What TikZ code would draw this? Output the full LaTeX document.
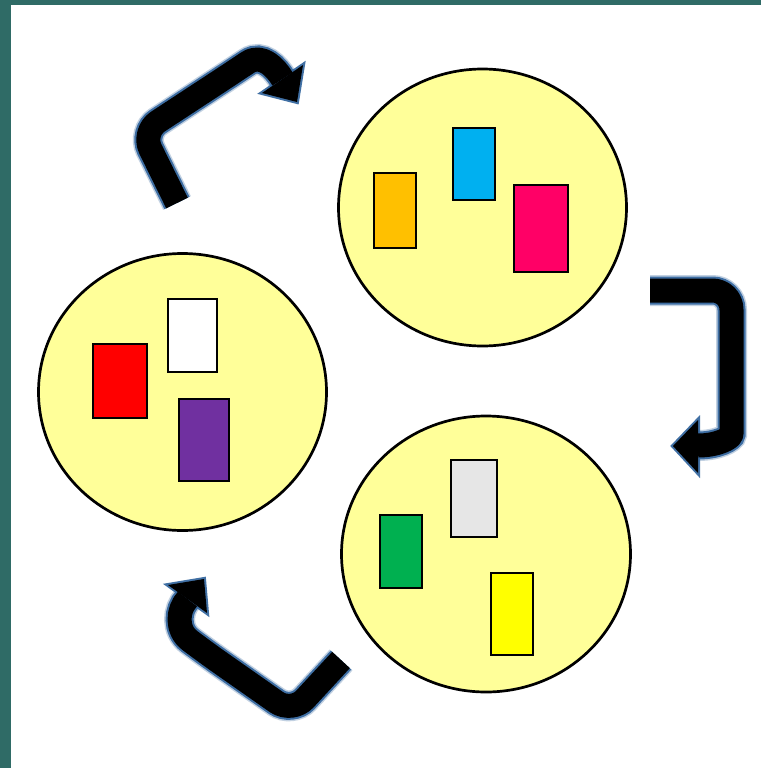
\documentclass[tikz,border=0pt]{standalone}
\usetikzlibrary{shapes.geometric}
\definecolor{bordercol}{HTML}{2F6B66}
\definecolor{blobfill}{HTML}{FFFF99}
\definecolor{glowcol}{RGB}{55,105,160}
\definecolor{cOrange}{HTML}{FFC000}
\definecolor{cCyan}{HTML}{00B0F0}
\definecolor{cMagenta}{HTML}{FF0066}
\definecolor{cRed}{HTML}{FF0000}
\definecolor{cPurple}{HTML}{7030A0}
\definecolor{cGreen}{HTML}{00B050}
\definecolor{cGray}{HTML}{E6E6E6}
\definecolor{cYellow}{HTML}{FFFF00}
\begin{document}
\begin{tikzpicture}[x=1pt,y=-1pt,
  blob/.style={ellipse, draw=black, line width=2.7pt, fill=blobfill, inner sep=0pt},
  card/.style={rectangle, draw=black, line width=2.7pt, inner sep=0pt},
  band/.style={draw=black, line width=24pt, line cap=butt, line join=round, rounded corners=19pt,
    preaction={draw=glowcol, line width=31pt, opacity=0.3},
    preaction={draw=glowcol, line width=28pt, opacity=0.95}},
  headglow/.style={draw=glowcol, line width=4pt, line join=miter, opacity=0.95},
  headfill/.style={fill=black}
]
\useasboundingbox (0,0) rectangle (761,768);
\fill[white] (0,0) rectangle (761,768);
\fill[bordercol] (0,0) rectangle (11,768);
\fill[bordercol] (0,0) rectangle (761,5);

% circles
\node[blob, minimum width=288pt, minimum height=277pt] (c1) at (482.5,207.5) {};
\node[blob, minimum width=288pt, minimum height=277pt] (c2) at (182.5,392) {};
\node[blob, minimum width=289pt, minimum height=276pt] (c3) at (486,554) {};

% cards, top circle
\node[card, fill=cOrange, minimum width=42pt, minimum height=75pt] (r1) at (395,210.5) {};
\node[card, fill=cCyan, minimum width=42pt, minimum height=72pt] (r2) at (474,164) {};
\node[card, fill=cMagenta, minimum width=54pt, minimum height=87pt] (r3) at (541,228.5) {};
% cards, left circle
\node[card, fill=cRed, minimum width=54pt, minimum height=74pt] (r4) at (120,381) {};
\node[card, fill=white, minimum width=49pt, minimum height=73pt] (r5) at (192.5,335.5) {};
\node[card, fill=cPurple, minimum width=50pt, minimum height=82pt] (r6) at (204,440) {};
% cards, bottom circle
\node[card, fill=cGreen, minimum width=42pt, minimum height=73pt] (r7) at (401,551.5) {};
\node[card, fill=cGray, minimum width=46pt, minimum height=77pt] (r8) at (474,498.5) {};
\node[card, fill=cYellow, minimum width=42pt, minimum height=82pt] (r9) at (512,614) {};

% arrow 1: left circle -> top circle
\coordinate (a1tail) at (177,203);
\coordinate (a1k1) at (142,132);
\coordinate (a1k2) at (232,73);
\coordinate (a1end) at (282.5,79);
\coordinate (a1l) at (303,65);
\coordinate (a1tip) at (297,102);
\coordinate (a1r) at (262,93);
\path[headglow] (a1l) -- (a1tip) -- (a1r) -- cycle;
\draw[band] (a1tail) -- (a1k1) -- (a1k2) .. controls (262,53) and (276,68) .. (a1end);
\path[headfill] (a1l) -- (a1tip) -- (a1r) -- cycle;

% arrow 2: top circle -> bottom circle
\coordinate (a2tail) at (650,290.5);
\coordinate (a2k1) at (731.5,290.5);
\coordinate (a2k2) at (731.5,415);
\coordinate (a2end) at (698,445.5);
\coordinate (a2l) at (698,420);
\coordinate (a2tip) at (673,446);
\coordinate (a2r) at (698,473);
\path[headglow] (a2l) -- (a2tip) -- (a2r) -- cycle;
\draw[band] (a2tail) -- (a2k1) -- (a2k2) .. controls (731.5,438) and (718,445.5) .. (a2end);
\path[headfill] (a2l) -- (a2tip) -- (a2r) -- cycle;

% arrow 3: bottom circle -> left circle
\coordinate (a3tail) at (341,660);
\coordinate (a3k1) at (292,713);
\coordinate (a3k2) at (205,652);
\coordinate (a3end) at (187.5,599);
\coordinate (a3l) at (168,585);
\coordinate (a3tip) at (204,579);
\coordinate (a3r) at (207,613);
\path[headglow] (a3l) -- (a3tip) -- (a3r) -- cycle;
\draw[band] (a3tail) -- (a3k1) -- (a3k2) .. controls (176,630) and (177,610) .. (a3end);
\path[headfill] (a3l) -- (a3tip) -- (a3r) -- cycle;
\end{tikzpicture}
\end{document}
